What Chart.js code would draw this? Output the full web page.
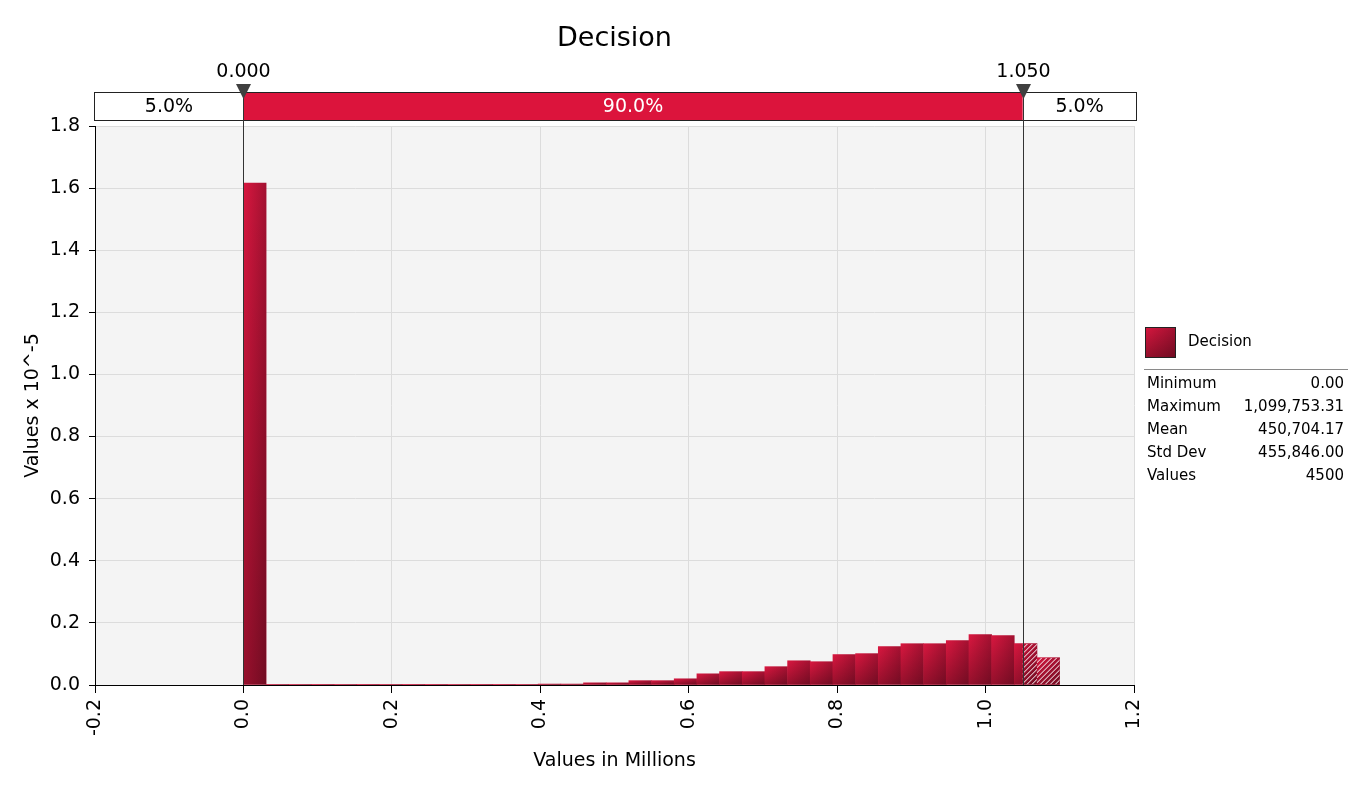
<!DOCTYPE html>
<html>
<head>
<meta charset="utf-8">
<title>Decision</title>
<script src="https://cdn.jsdelivr.net/npm/chart.js@4.4.1/dist/chart.umd.min.js"></script>
<style>
  html, body { margin: 0; padding: 0; background: #fff; }
  canvas { display: block; }
</style>
</head>
<body>
<canvas id="decisionChart" width="1363" height="790"></canvas>
<script>
const chartTitle = 'Decision';
const xTitle = 'Values in Millions';
const yTitle = 'Values x 10^-5';

// bin centres (millions) and density heights (x 10^-5)
const binCenters = [
  0.0153, 0.0458, 0.0764, 0.1069, 0.1375, 0.1680, 0.1986, 0.2291, 0.2597,
  0.2902, 0.3208, 0.3513, 0.3819, 0.4124, 0.4430, 0.4735, 0.5041, 0.5346,
  0.5652, 0.5957, 0.6263, 0.6568, 0.6874, 0.7179, 0.7485, 0.7790, 0.8096,
  0.8401, 0.8707, 0.9012, 0.9318, 0.9623, 0.9929, 1.0234, 1.0540, 1.0845
];
const densities = [
  1.616, 0.002, 0.002, 0.001, 0.002, 0.001, 0.002, 0.001, 0.001,
  0.002, 0.001, 0.001, 0.002, 0.003, 0.003, 0.007, 0.007, 0.014,
  0.014, 0.020, 0.036, 0.043, 0.043, 0.059, 0.078, 0.075, 0.098,
  0.101, 0.124, 0.133, 0.133, 0.143, 0.162, 0.159, 0.133, 0.088
];

const markerValues = [0.000, 1.050];
const markerLabels = ['0.000', '1.050'];
const bandPercents = ['5.0%', '90.0%', '5.0%'];

const statLabels = ['Minimum', 'Maximum', 'Mean', 'Std Dev', 'Values'];
const statValues = ['0.00', '1,099,753.31', '450,704.17', '455,846.00', '4500'];

const FONT = '"DejaVu Sans", Verdana, sans-serif';
const CRIMSON = '#dc143c';

function barGradient(ctx, left, right) {
  const g = ctx.createLinearGradient(left, 0, right, 0);
  g.addColorStop(0, '#d8173f');
  g.addColorStop(1, '#a31131');
  return g;
}

const riskPlugin = {
  id: 'riskPlugin',
  beforeDraw(chart) {
    const {ctx, chartArea: a} = chart;
    ctx.save();
    ctx.fillStyle = '#f4f4f4';
    ctx.fillRect(a.left, a.top, a.right - a.left, a.bottom - a.top);
    ctx.restore();
  },
  afterDatasetsDraw(chart) {
    const {ctx, chartArea: a, scales} = chart;
    const meta = chart.getDatasetMeta(0);
    const cut = scales.x.getPixelForValue(markerValues[1]);
    ctx.save();
    ctx.beginPath();
    ctx.rect(a.left, a.top, a.right - a.left, a.bottom - a.top);
    ctx.clip();
    meta.data.forEach(bar => {
      const p = bar.getProps(['x', 'y', 'base', 'width'], true);
      const left = p.x - p.width / 2;
      const h = p.base - p.y;
      if (!(h > 0)) return;
      // darken towards the bottom of each bar
      const g = ctx.createLinearGradient(0, p.y, 0, p.base);
      g.addColorStop(0, 'rgba(0,0,0,0)');
      g.addColorStop(1, 'rgba(0,0,0,0.3)');
      ctx.fillStyle = g;
      ctx.fillRect(left, p.y, p.width, h);
      // hatch the upper tail
      if (left + p.width > cut) {
        const hl = Math.max(left, cut);
        ctx.save();
        ctx.beginPath();
        ctx.rect(hl, p.y, left + p.width - hl, h);
        ctx.clip();
        ctx.strokeStyle = '#fff';
        ctx.lineWidth = 1;
        ctx.beginPath();
        for (let k = hl - h - 5; k < left + p.width + 5; k += 5) {
          ctx.moveTo(k, p.base);
          ctx.lineTo(k + h, p.y);
        }
        ctx.stroke();
        ctx.restore();
      }
    });
    ctx.restore();
  },
  afterDraw(chart) {
    const {ctx, chartArea: a, scales} = chart;
    const xs = scales.x;
    const m0 = xs.getPixelForValue(markerValues[0]);
    const m1 = xs.getPixelForValue(markerValues[1]);
    ctx.save();

    // title
    ctx.fillStyle = '#000';
    ctx.font = '27px ' + FONT;
    ctx.textAlign = 'center';
    ctx.textBaseline = 'middle';
    ctx.fillText(chartTitle, (a.left + a.right) / 2, 39);

    // band strip
    const sTop = 92.5, sBot = 120.5, sLeft = a.left - 0.5, sRight = a.right + 2.5;
    ctx.fillStyle = '#fff';
    ctx.fillRect(sLeft, sTop, sRight - sLeft, sBot - sTop);
    ctx.fillStyle = CRIMSON;
    ctx.fillRect(m0, sTop, m1 - m0, sBot - sTop);
    ctx.strokeStyle = '#222';
    ctx.lineWidth = 1;
    ctx.strokeRect(sLeft, sTop, sRight - sLeft, sBot - sTop);

    ctx.font = '19px ' + FONT;
    ctx.fillStyle = '#000';
    ctx.fillText(bandPercents[0], (sLeft + m0) / 2, 107);
    ctx.fillStyle = '#fff';
    ctx.fillText(bandPercents[1], (m0 + m1) / 2, 107);
    ctx.fillStyle = '#000';
    ctx.fillText(bandPercents[2], (m1 + sRight) / 2, 107);

    // marker lines, triangles and labels
    [m0, m1].forEach((mx, i) => {
      const px = Math.round(mx) + 0.5;
      ctx.strokeStyle = '#333';
      ctx.beginPath();
      ctx.moveTo(px, 95);
      ctx.lineTo(px, a.bottom);
      ctx.stroke();
      ctx.fillStyle = '#404040';
      ctx.beginPath();
      ctx.moveTo(px - 7.5, 84);
      ctx.lineTo(px + 7.5, 84);
      ctx.lineTo(px, 99);
      ctx.closePath();
      ctx.fill();
      ctx.fillStyle = '#000';
      ctx.fillText(markerLabels[i], px, 72);
    });

    // legend panel
    const lx = 1145;
    ctx.fillStyle = barGradient(ctx, lx, lx + 30);
    ctx.fillRect(lx, 327, 30, 30);
    const vg = ctx.createLinearGradient(0, 327, 0, 357);
    vg.addColorStop(0, 'rgba(0,0,0,0)');
    vg.addColorStop(1, 'rgba(0,0,0,0.3)');
    ctx.fillStyle = vg;
    ctx.fillRect(lx, 327, 30, 30);
    ctx.strokeStyle = '#222';
    ctx.strokeRect(lx + 0.5, 327.5, 30, 30);

    ctx.font = '15px ' + FONT;
    ctx.fillStyle = '#000';
    ctx.textAlign = 'left';
    ctx.fillText(chartTitle, 1188, 342);

    ctx.strokeStyle = '#8a8a8a';
    ctx.beginPath();
    ctx.moveTo(1144, 369.5);
    ctx.lineTo(1348, 369.5);
    ctx.stroke();

    statLabels.forEach((lab, i) => {
      const yy = 384 + i * 23;
      ctx.textAlign = 'left';
      ctx.fillText(lab, 1147, yy);
      ctx.textAlign = 'right';
      ctx.fillText(statValues[i], 1344, yy);
    });
    ctx.restore();
  }
};

const ctx = document.getElementById('decisionChart').getContext('2d');
new Chart(ctx, {
  type: 'bar',
  data: {
    datasets: [{
      label: chartTitle,
      data: binCenters.map((c, i) => ({x: c, y: densities[i]})),
      backgroundColor(c) {
        const xs = c.chart.scales.x;
        if (!xs || c.dataIndex === undefined) return '#c8143a';
        const half = (binCenters[1] - binCenters[0]) / 2;
        const l = xs.getPixelForValue(binCenters[c.dataIndex] - half);
        const r = xs.getPixelForValue(binCenters[c.dataIndex] + half);
        if (!isFinite(l) || !isFinite(r) || r <= l) return '#c8143a';
        return barGradient(c.chart.ctx, l, r);
      },
      borderWidth: 0,
      barPercentage: 1,
      categoryPercentage: 1
    }]
  },
  options: {
    responsive: false,
    animation: false,
    devicePixelRatio: 1,
    layout: {padding: {top: 126, right: 229, left: 0, bottom: 0}},
    plugins: {
      legend: {display: false},
      tooltip: {enabled: false},
      title: {display: false}
    },
    scales: {
      x: {
        type: 'linear',
        offset: false,
        min: -0.2,
        max: 1.2,
        afterFit(scale) { scale.height = 105; },
        grid: {offset: false, color: '#dcdcdc', tickColor: '#000', tickLength: 8},
        border: {color: '#000'},
        ticks: {
          stepSize: 0.2,
          autoSkip: false,
          minRotation: 90,
          maxRotation: 90,
          padding: 6,
          color: '#000',
          font: {family: FONT, size: 19},
          callback: v => (Math.abs(v) < 1e-9 ? 0 : v).toFixed(1)
        },
        title: {
          display: true,
          text: xTitle,
          color: '#000',
          font: {family: FONT, size: 19},
          padding: {top: 0, bottom: 18}
        }
      },
      y: {
        min: 0,
        max: 1.8,
        afterFit(scale) { scale.width = 95; },
        grid: {color: '#dcdcdc', tickColor: '#000', tickLength: 6},
        border: {color: '#000'},
        ticks: {
          stepSize: 0.2,
          padding: 9,
          color: '#000',
          font: {family: FONT, size: 19},
          callback: v => v.toFixed(1)
        },
        title: {
          display: true,
          text: yTitle,
          color: '#000',
          font: {family: FONT, size: 19},
          padding: {top: 22, bottom: 0}
        }
      }
    }
  },
  plugins: [riskPlugin]
});
</script>
</body>
</html>
